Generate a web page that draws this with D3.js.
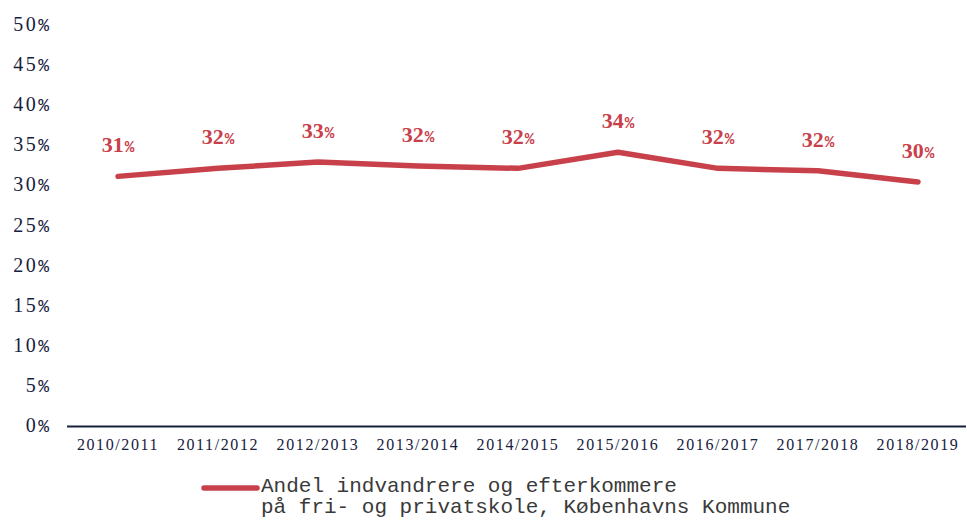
<!DOCTYPE html>
<html>
<head>
<meta charset="utf-8">
<script src="https://cdn.jsdelivr.net/npm/d3@7"></script>
<style>
  html, body { margin: 0; padding: 0; background: #fff; }
  svg { display: block; }
</style>
</head>
<body>
<svg id="chart" width="967" height="520"></svg>
<script>
const categories = ["2010/2011","2011/2012","2012/2013","2013/2014","2014/2015","2015/2016","2016/2017","2017/2018","2018/2019"];
const values = [31.0, 32.0, 32.8, 32.3, 32.0, 34.0, 32.0, 31.7, 30.3];
const valueLabels = ["31","32","33","32","32","34","32","32","30"];
const yTicks = [0,5,10,15,20,25,30,35,40,45,50];
const legendLines = ["Andel indvandrere og efterkommere", "på fri- og privatskole, Københavns Kommune"];

const red = "#c8414a";
const navy = "#16203d";
const serif = "'Liberation Serif', 'DejaVu Serif', serif";
const mono = "'Liberation Mono', 'DejaVu Sans Mono', monospace";

const svg = d3.select("#chart");

const x = d3.scaleBand().domain(categories).range([68, 968]).padding(0);
const y = d3.scaleLinear().domain([0, 50]).range([425, 24]);

// y axis labels
const yAxis = svg.append("g");
const yl = yAxis.selectAll("text").data(yTicks).join("text")
  .attr("x", 49)
  .attr("y", d => y(d) + 7)
  .attr("text-anchor", "end")
  .attr("fill", navy)
  .attr("font-family", serif)
  .attr("font-size", 20);
yl.append("tspan").style("letter-spacing", "2.5px").text(d => d);
yl.append("tspan").attr("font-family", mono).attr("font-size", 18).text("%");

// x axis
const xAxis = d3.axisBottom(x).tickSize(0).tickPadding(0);
const gx = svg.append("g").attr("transform", "translate(0,426.5)").call(xAxis);
gx.attr("font-family", null).attr("font-size", null);
gx.select(".domain").attr("d", "M67,0H966").attr("stroke", navy).attr("stroke-width", 2.2);
gx.selectAll(".tick text")
  .attr("y", 23.5)
  .attr("dy", null)
  .attr("fill", navy)
  .attr("font-family", serif)
  .attr("font-size", 16)
  .style("letter-spacing", "1.6px");

// line
const line = d3.line()
  .x((d, i) => x(categories[i]) + x.bandwidth() / 2)
  .y(d => y(d));
svg.append("path")
  .datum(values)
  .attr("d", line)
  .attr("fill", "none")
  .attr("stroke", red)
  .attr("stroke-width", 5.5)
  .attr("stroke-linecap", "round")
  .attr("stroke-linejoin", "round");

// value labels
const vl = svg.append("g").selectAll("text").data(values).join("text")
  .attr("x", (d, i) => x(categories[i]) + x.bandwidth() / 2)
  .attr("y", d => y(d) - 24)
  .attr("text-anchor", "middle")
  .attr("fill", red)
  .attr("font-family", serif)
  .attr("font-weight", "bold")
  .attr("font-size", 22);
vl.append("tspan").text((d, i) => valueLabels[i]);
vl.append("tspan").attr("font-family", mono).attr("font-size", 16).attr("dx", 1).text("%");

// legend
const lg = svg.append("g");
lg.append("line")
  .attr("x1", 204).attr("x2", 257)
  .attr("y1", 488).attr("y2", 488)
  .attr("stroke", red).attr("stroke-width", 5.5).attr("stroke-linecap", "round");
lg.selectAll("text").data(legendLines).join("text")
  .attr("x", 261)
  .attr("y", (d, i) => 492 + i * 21)
  .attr("fill", "#3a3a3a")
  .attr("font-family", mono)
  .attr("font-size", 21)
  .text(d => d);
</script>
</body>
</html>
